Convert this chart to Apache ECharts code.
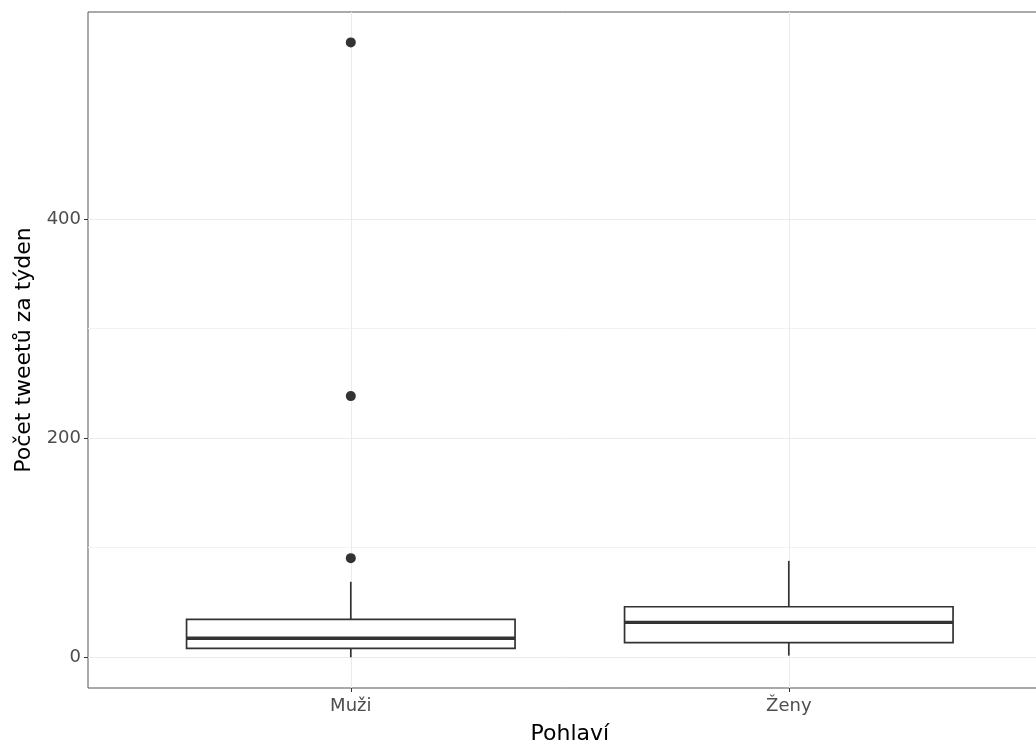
<!DOCTYPE html>
<html>
<head>
<meta charset="utf-8">
<script src="https://cdn.jsdelivr.net/npm/echarts@6/dist/echarts.min.js"></script>
<style>html,body{margin:0;padding:0;background:#fff}#c{width:1036px;height:747px}</style>
</head>
<body>
<div id="c"></div>
<script>
// ---- data ----
const categories = ['Muži', 'Ženy'];
// [min, Q1, median, Q3, max] of whiskers/box per category
const boxMuzi = [0, 8.2, 17.3, 34.6, 68.9];
const boxZeny = [1.5, 13.3, 31.9, 46.1, 88.0];
// outliers (category index, value)
const outlierCategory = [0, 0, 0];
const outlierValues = [561.3, 238.4, 90.5];
const yTickLabels = [0, 200, 400];
const yMinorLines = [100, 300];

const boxData = [[0].concat(boxMuzi), [1].concat(boxZeny)];
const outlierData = outlierValues.map((v, i) => [outlierCategory[i], v]);

const FONT = 'DejaVu Sans';
const chart = echarts.init(document.getElementById('c'), null, {renderer: 'canvas'});

function renderBox(params, api) {
  const x = api.value(0);
  const pMin = api.coord([x, api.value(1)]);
  const pQ1 = api.coord([x, api.value(2)]);
  const pMed = api.coord([x, api.value(3)]);
  const pQ3 = api.coord([x, api.value(4)]);
  const pMax = api.coord([x, api.value(5)]);
  const halfW = api.size([0.75, 0])[0] / 2;
  const stroke = '#333333';
  return {
    type: 'group',
    children: [
      {type: 'line', shape: {x1: pMax[0], y1: pMax[1], x2: pQ3[0], y2: pQ3[1]}, style: {stroke: stroke, lineWidth: 1.7}},
      {type: 'line', shape: {x1: pQ1[0], y1: pQ1[1], x2: pMin[0], y2: pMin[1]}, style: {stroke: stroke, lineWidth: 1.7}},
      {type: 'rect', shape: {x: pQ3[0] - halfW, y: pQ3[1], width: 2 * halfW, height: pQ1[1] - pQ3[1]}, style: {fill: '#ffffff', stroke: stroke, lineWidth: 1.7}},
      {type: 'line', shape: {x1: pMed[0] - halfW, y1: pMed[1], x2: pMed[0] + halfW, y2: pMed[1]}, style: {stroke: stroke, lineWidth: 3.4}}
    ]
  };
}

const option = {
  animation: false,
  backgroundColor: '#ffffff',
  grid: {left: 88, top: 12, right: -15.6, bottom: 59, outerBoundsMode: 'none', containLabel: false,
         show: true, borderColor: '#555555', borderWidth: 1, backgroundColor: 'transparent'},
  xAxis: {
    type: 'value', min: -0.6, max: 1.6,
    name: 'Pohlaví', nameLocation: 'middle', nameGap: 35,
    nameTextStyle: {fontFamily: FONT, fontSize: 22, color: '#000'},
    axisLine: {show: false, onZero: false},
    axisTick: {show: true, length: 4, customValues: [0, 1], lineStyle: {color: '#333', width: 1}},
    axisLabel: {customValues: [0, 1], formatter: v => categories[Math.round(v)] || '', fontFamily: FONT, fontSize: 18, color: '#4D4D4D', margin: 9},
    splitLine: {show: true, lineStyle: {color: '#EBEBEB', width: 1}}
  },
  yAxis: [{
    type: 'value', min: -28.05, max: 589.05,
    name: 'Počet tweetů za týden', nameLocation: 'middle', nameGap: 52,
    nameTextStyle: {fontFamily: FONT, fontSize: 22, color: '#000'},
    axisLine: {show: false, onZero: false},
    axisTick: {show: true, length: 4, customValues: yTickLabels, lineStyle: {color: '#333', width: 1}},
    axisLabel: {customValues: yTickLabels, fontFamily: FONT, fontSize: 18, color: '#4D4D4D', margin: 7},
    splitLine: {show: true, lineStyle: {color: '#EBEBEB', width: 1}}
  }, {
    type: 'value', min: -28.05, max: 589.05, position: 'left',
    axisLine: {show: false, onZero: false},
    axisTick: {show: false, customValues: yMinorLines},
    axisLabel: {show: false, customValues: yMinorLines},
    splitLine: {show: true, lineStyle: {color: '#F2F2F2', width: 1}}
  }],
  series: [{
    type: 'custom',
    renderItem: renderBox,
    data: boxData,
    encode: {x: 0, y: [1, 2, 3, 4, 5]},
    xAxisIndex: 0, yAxisIndex: 0,
    z: 3
  }, {
    type: 'scatter',
    data: outlierData,
    symbol: 'circle', symbolSize: 10,
    itemStyle: {color: '#333333', opacity: 1},
    xAxisIndex: 0, yAxisIndex: 0,
    z: 4
  }]
};
chart.setOption(option);
</script>
</body>
</html>
